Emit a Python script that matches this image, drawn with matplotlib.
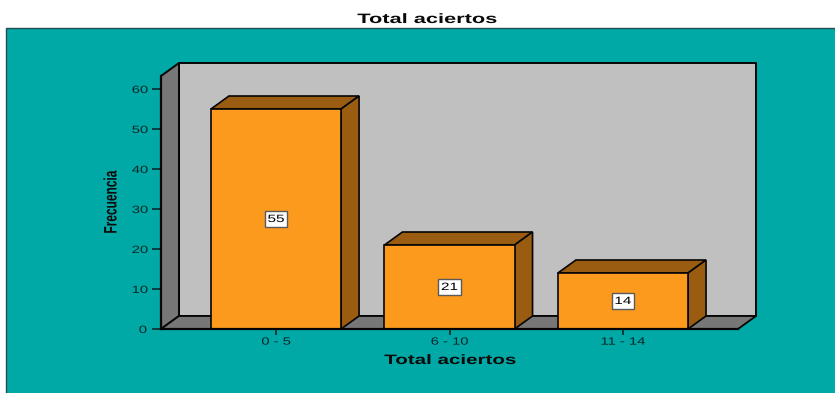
import matplotlib
matplotlib.use("Agg")
import matplotlib.pyplot as plt
from matplotlib.patches import Polygon, Rectangle
from matplotlib.patheffects import AbstractPathEffect
from matplotlib.transforms import Affine2D

categories = ["0 - 5", "6 - 10", "11 - 14"]
frequencies = [55, 21, 14]
y_ticks = [0, 10, 20, 30, 40, 50, 60]
title_text = "Total aciertos"
x_label = "Total aciertos"
y_label = "Frecuencia"

W, H = 835, 393
TEAL = "#00A8A6"
WALL = "#C0C0C0"
SIDE = "#777777"
ORANGE = "#FC9A1E"
ORANGE_DARK = "#995C10"
INK = "#050505"
FONT = "Liberation Sans"


class Stretch(AbstractPathEffect):
    """Scale a text run along its baseline, about the centre of the run."""

    def __init__(self, factor):
        super().__init__()
        self.factor = factor

    def draw_path(self, renderer, gc, tpath, affine, rgbFace=None):
        ext = tpath.get_extents()
        cx = 0.5 * (ext.x0 + ext.x1)
        pre = Affine2D().translate(-cx, 0).scale(self.factor, 1).translate(cx, 0)
        renderer.draw_path(gc, tpath, pre + affine, rgbFace)


fig = plt.figure(figsize=(W / 100, H / 100), dpi=100, facecolor="white")
fig.add_artist(Rectangle((6.0 / W, -0.02), 1.0, 1 - 28.0 / H + 0.02,
                         transform=fig.transFigure, facecolor=TEAL,
                         edgecolor="#1F4F50", linewidth=1.0, zorder=-5))

# Front plane of the pseudo-3D box
left, right, y_base, y_top = 161, 738, 329, 76
ax = fig.add_axes([left / W, 1 - y_base / H, (right - left) / W, (y_base - y_top) / H])
ax.patch.set_visible(False)
ax.set_xlim(-0.663, 2.663)
ax.set_ylim(0, 63.25)
for side in ("top", "right", "bottom"):
    ax.spines[side].set_visible(False)
ax.spines["left"].set_linewidth(1.6)
ax.spines["left"].set_color(INK)

# Depth offset of the extrusion, in data units
dx, dy = 0.1037, 3.25
x0, x1 = ax.get_xlim()
y0, y1 = ax.get_ylim()
edge = dict(edgecolor=INK, linewidth=1.2, clip_on=False, joinstyle="miter")

ax.add_patch(Polygon([(x0 + dx, y0 + dy), (x1 + dx, y0 + dy), (x1 + dx, y1 + dy), (x0 + dx, y1 + dy)],
                     facecolor=WALL, zorder=1, **{**edge, "linewidth": 1.4}))
ax.add_patch(Polygon([(x0, y0), (x0 + dx, y0 + dy), (x0 + dx, y1 + dy), (x0, y1)],
                     facecolor=SIDE, zorder=1.1, **{**edge, "linewidth": 1.4}))
ax.add_patch(Polygon([(x0, y0), (x1, y0), (x1 + dx, y0 + dy), (x0 + dx, y0 + dy)],
                     facecolor=SIDE, zorder=1.2, **{**edge, "linewidth": 1.3}))

half = 0.375
box_w, box_h = 0.13, 3.8
for i, (name, value) in enumerate(zip(categories, frequencies)):
    a, b = i - half, i + half
    ax.add_patch(Polygon([(a, value), (b, value), (b + dx, value + dy), (a + dx, value + dy)],
                         facecolor=ORANGE_DARK, zorder=3, **edge))
    ax.add_patch(Polygon([(b, 0), (b + dx, dy), (b + dx, value + dy), (b, value)],
                         facecolor=ORANGE_DARK, zorder=3, **edge))
    ax.add_patch(Rectangle((a, 0), b - a, value, facecolor=ORANGE, zorder=4, **edge))
    ax.add_patch(Rectangle((i - box_w / 2, value / 2 - box_h / 2), box_w, box_h, facecolor="white",
                           edgecolor="#5A5A5A", linewidth=1.0, zorder=5))
    label = ax.text(i, value / 2, str(value), ha="center", va="center", fontsize=7.6,
                    family=FONT, color="#000000", zorder=6)
    label.set_path_effects([Stretch(1.45)])

ax.plot([x0, x1], [0, 0], color=INK, linewidth=1.6, clip_on=False, zorder=5)

ax.set_yticks(y_ticks)
ax.set_xticks(range(len(categories)))
ax.set_xticklabels(categories)
ax.tick_params(axis="y", length=6.5, width=1.1, color="#0A2020", pad=4.5,
               labelsize=7.6, labelcolor="#082828")
ax.tick_params(axis="x", length=4, width=1.1, color="#0A2020", pad=1.5,
               labelsize=7.6, labelcolor="#082828")
for lab in ax.get_xticklabels() + ax.get_yticklabels():
    lab.set_family(FONT)
    lab.set_path_effects([Stretch(1.4)])

title = fig.text(427 / W, 1 - 19 / H, title_text, ha="center", va="center", fontsize=9.8,
                 fontweight="bold", family=FONT, color="#0A0A0A")
title.set_path_effects([Stretch(1.6)])
xlab = fig.text(450 / W, 1 - 360 / H, x_label, ha="center", va="center", fontsize=9.8,
                fontweight="bold", family=FONT, color="#0A0A0A")
xlab.set_path_effects([Stretch(1.51)])
ylab = fig.text(112 / W, 1 - 202.5 / H, y_label, ha="center", va="center", rotation=90,
                fontsize=13, fontweight="bold", family=FONT, color="#0A0A0A")
ylab.set_path_effects([Stretch(0.66)])

fig.savefig("out.png", dpi=100, facecolor="white")
